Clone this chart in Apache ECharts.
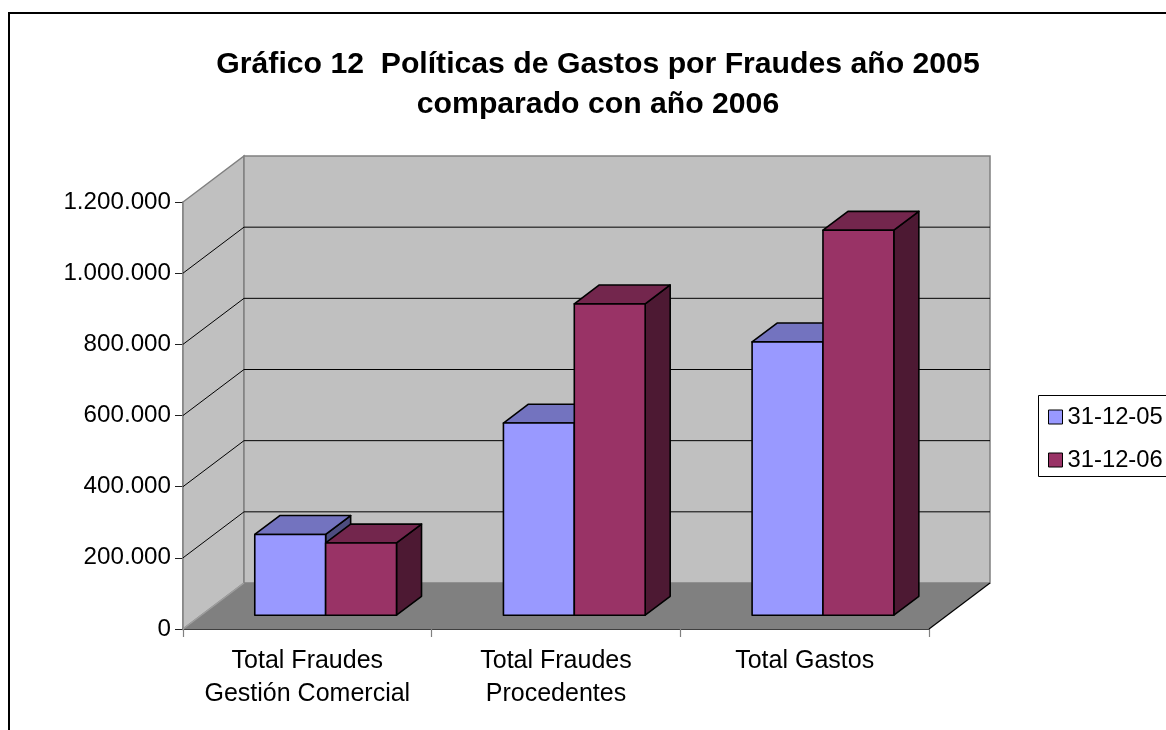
<!DOCTYPE html>
<html>
<head>
<meta charset="utf-8">
<title>Gráfico 12</title>
<script src="https://cdn.jsdelivr.net/npm/echarts@6/dist/echarts.min.js"></script>
<style>
  html, body { margin: 0; padding: 0; background: #ffffff; }
  #chart { width: 1166px; height: 730px; }
</style>
</head>
<body>
<div id="chart"></div>
<script>
// Categories, series and values
const categories = ['Total Fraudes\nGestión Comercial', 'Total Fraudes\nProcedentes', 'Total Gastos'];
const seriesNames = ['31-12-05', '31-12-06'];
const values2005 = [227000, 540000, 768000];
const values2006 = [203000, 875000, 1082000];
const yTicks = [0, 200000, 400000, 600000, 800000, 1000000, 1200000];

const titleText = 'Gráfico 12  Políticas de Gastos por Fraudes año 2005\ncomparado con año 2006';

// Oblique projection of the depth axis (pixels from front plane to back wall)
const DX = 61, DY = -46;
// Bars sit between these depth fractions
const BAR_FRONT = 0.30, BAR_DEPTH = 0.41;
const BAR_WIDTH_RATIO = 0.285;

const FONT = 'Liberation Sans, Arial, sans-serif';

const faceColors = [
  { front: '#9999ff', top: '#7373bf', side: '#4d4d80' },
  { front: '#993366', top: '#73264d', side: '#4d1933' }
];

function formatThousands(v) {
  return String(v).replace(/\B(?=(\d{3})+(?!\d))/g, '.');
}

// Side wall, back wall, floor and the wall gridlines
function renderWalls(params, api) {
  const cs = params.coordSys;
  const x0 = cs.x, x1 = cs.x + cs.width;
  const yb = api.coord([0, yTicks[0]])[1];
  const yt = api.coord([0, yTicks[yTicks.length - 1]])[1];
  const children = [
    {
      type: 'polygon',
      shape: { points: [[x0, yb], [x0 + DX, yb + DY], [x0 + DX, yt + DY], [x0, yt]] },
      style: { fill: '#c0c0c0', stroke: '#808080', lineWidth: 1.5 }
    },
    {
      type: 'rect',
      shape: { x: x0 + DX, y: yt + DY, width: x1 - x0, height: yb - yt },
      style: { fill: '#c0c0c0', stroke: '#808080', lineWidth: 1.5 }
    },
    {
      type: 'polygon',
      shape: { points: [[x0, yb], [x1, yb], [x1 + DX, yb + DY], [x0 + DX, yb + DY]] },
      style: { fill: '#808080', stroke: null }
    },
    {
      type: 'line',
      shape: { x1: x0, y1: yb, x2: x0 + DX, y2: yb + DY },
      style: { stroke: '#a0a0a0', lineWidth: 1.2 }
    },
    {
      type: 'line',
      shape: { x1: x1, y1: yb, x2: x1 + DX, y2: yb + DY },
      style: { stroke: '#000000', lineWidth: 1.2 }
    }
  ];
  for (let k = 1; k < yTicks.length - 1; k++) {
    const y = api.coord([0, yTicks[k]])[1];
    children.push({
      type: 'line',
      shape: { x1: x0, y1: y, x2: x0 + DX, y2: y + DY },
      style: { stroke: '#000000', lineWidth: 1 }
    });
    children.push({
      type: 'line',
      shape: { x1: x0 + DX, y1: y + DY, x2: x1 + DX, y2: y + DY },
      style: { stroke: '#000000', lineWidth: 1 }
    });
  }
  return { type: 'group', children: children };
}

// A 3D box per value: side face, top face, then front face
function makeBarRenderer(slot) {
  const col = faceColors[slot];
  return function (params, api) {
    const i = api.value(0);
    const v = api.value(1);
    const base = api.coord([i, 0]);
    const top = api.coord([i, v]);
    const w = api.size([1, 0])[0] * BAR_WIDTH_RATIO;
    const cx = base[0] + BAR_FRONT * DX;
    const xa = slot === 0 ? cx - w : cx;
    const xb = xa + w;
    const yb = base[1] + BAR_FRONT * DY;
    const yt = top[1] + BAR_FRONT * DY;
    const dx = BAR_DEPTH * DX, dy = BAR_DEPTH * DY;
    const edge = { stroke: '#000000', lineWidth: 1.6, lineJoin: 'round' };
    return {
      type: 'group',
      children: [
        {
          type: 'polygon',
          shape: { points: [[xb, yt], [xb + dx, yt + dy], [xb + dx, yb + dy], [xb, yb]] },
          style: Object.assign({ fill: col.side }, edge)
        },
        {
          type: 'polygon',
          shape: { points: [[xa, yt], [xb, yt], [xb + dx, yt + dy], [xa + dx, yt + dy]] },
          style: Object.assign({ fill: col.top }, edge)
        },
        {
          type: 'rect',
          shape: { x: xa, y: yt, width: w, height: yb - yt },
          style: Object.assign({ fill: col.front }, edge)
        }
      ]
    };
  };
}

const chart = echarts.init(document.getElementById('chart'), null, { renderer: 'canvas' });

chart.setOption({
  backgroundColor: '#ffffff',
  animation: false,
  graphic: [
    {
      // outer chart frame
      type: 'rect',
      shape: { x: 9, y: 13, width: 1300, height: 900 },
      style: { fill: null, stroke: '#000000', lineWidth: 2 },
      z: -10
    },
    {
      // legend frame, running past the right edge
      type: 'rect',
      shape: { x: 1038.5, y: 395.5, width: 200, height: 81 },
      style: { fill: null, stroke: '#000000', lineWidth: 1 },
      z: 10
    }
  ],
  title: {
    text: titleText,
    left: 593,
    top: 40,
    textAlign: 'center',
    textStyle: {
      fontFamily: FONT,
      fontSize: 30.2,
      fontWeight: 'bold',
      color: '#000000',
      lineHeight: 40
    }
  },
  legend: {
    data: seriesNames,
    orient: 'vertical',
    left: 1038,
    top: 395,
    padding: [10, 0, 6, 10],
    itemGap: 19,
    itemWidth: 14,
    itemHeight: 14,
    itemTextGap: 8,
    icon: 'rect',
    borderWidth: 0,
    itemStyle: { borderColor: '#000000', borderWidth: 1 },
    textStyle: { fontFamily: FONT, fontSize: 23.8, color: '#000000' }
  },
  grid: {
    left: 183,
    top: 202,
    width: 746,
    height: 427
  },
  xAxis: {
    type: 'category',
    data: categories,
    boundaryGap: true,
    axisLine: { show: true, lineStyle: { color: '#000000', width: 1.5 } },
    axisTick: { show: true, length: 8, lineStyle: { color: '#808080', width: 1.2 } },
    axisLabel: {
      margin: 16,
      fontFamily: FONT,
      fontSize: 25,
      lineHeight: 33,
      color: '#000000',
      interval: 0
    },
    splitLine: { show: false }
  },
  yAxis: {
    type: 'value',
    min: yTicks[0],
    max: yTicks[yTicks.length - 1],
    interval: yTicks[1] - yTicks[0],
    axisLine: { show: true, lineStyle: { color: '#808080', width: 1.5 } },
    axisTick: { show: true, length: 8, lineStyle: { color: '#202020', width: 1 } },
    axisLabel: {
      margin: 12,
      fontFamily: FONT,
      fontSize: 24.2,
      color: '#000000',
      formatter: formatThousands
    },
    splitLine: { show: false }
  },
  series: [
    {
      name: 'walls',
      type: 'custom',
      renderItem: renderWalls,
      data: [[0, 0]],
      z: 1,
      silent: true,
      tooltip: { show: false }
    },
    {
      name: seriesNames[0],
      type: 'custom',
      renderItem: makeBarRenderer(0),
      itemStyle: { color: faceColors[0].front },
      data: values2005.map((v, i) => [i, v]),
      z: 2
    },
    {
      name: seriesNames[1],
      type: 'custom',
      renderItem: makeBarRenderer(1),
      itemStyle: { color: faceColors[1].front },
      data: values2006.map((v, i) => [i, v]),
      z: 3
    }
  ]
});
</script>
</body>
</html>
